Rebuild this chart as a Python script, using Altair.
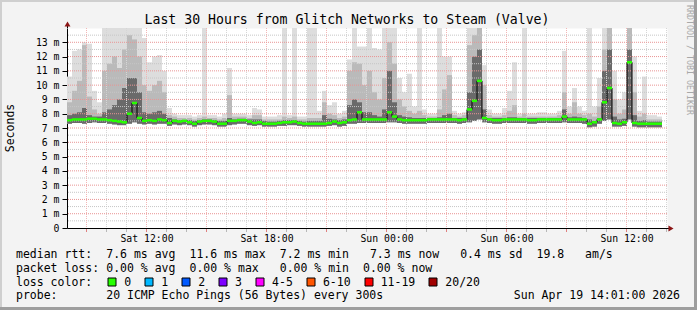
import altair as alt
import pandas as pd

# ---------------- data (one value per 15-minute bin) ----------------
START_HOUR = 8.025          # Sat 08:01 (hours since Sat 00:00)
BIN_HOURS = 0.25

smoke_max = [
    10.6, 12.4, 12.5, 13.0, 12.9, 9.6, 8.8, 14, 14, 14, 14, 14, 14, 14, 14, 13.3, 11.6, 12.0, 12.1, 11.0, 8.4, 8.0, 7.9, 7.9,
    7.9, 7.8, 7.9, 14, 7.9, 7.9, 7.8, 8.0, 11.2, 8.0, 8.0, 8.0, 7.9, 8.4, 8.3, 7.8, 7.8, 7.8, 7.9, 14, 7.9, 14, 7.8, 7.8,
    14, 14, 8.2, 9.6, 8.6, 8.8, 8.0, 8.2, 11.8, 14, 12.7, 12.7, 14, 12.6, 12.5, 14, 14, 14, 10.5, 9.5, 10.8, 8.5, 14, 8.3,
    8.0, 8.0, 14, 12.0, 12.0, 8.2, 8.0, 8.1, 14, 14, 14, 11.4, 8.3, 8.0, 8.0, 8.4, 9.6, 11.6, 8.0, 14, 8.0, 8.0, 8.1, 8.1,
    8.0, 8.0, 8.2, 12.4, 8.5, 9.8, 8.5, 8.2, 14, 8.5, 10.5, 14, 14, 11.0, 9.0, 9.5, 14, 12.0, 8.2, 10.6, 7.9, 7.9, 7.8,
]
smoke_mid = [
    8.8, 9.6, 10.3, 12.8, 9.2, 8.3, 8.0, 11.0, 11.5, 12.0, 11.2, 12.5, 13.5, 13.2, 12.0, 10.0, 9.6, 10.0, 10.3, 9.5, 7.9, 7.8, 7.7, 7.7,
    7.7, 7.6, 7.7, 7.8, 7.7, 7.7, 7.6, 7.7, 9.3, 7.8, 7.8, 7.8, 7.7, 7.9, 7.9, 7.6, 7.6, 7.6, 7.6, 7.8, 7.7, 7.8, 7.6, 7.6,
    7.7, 7.7, 7.7, 8.8, 8.0, 7.9, 7.7, 7.8, 11.0, 11.6, 11.5, 10.0, 11.0, 9.5, 9.0, 10.5, 13.0, 11.5, 9.0, 8.5, 8.2, 8.0, 8.2, 7.9,
    7.8, 7.8, 8.3, 9.7, 10.7, 7.9, 7.8, 7.9, 12.8, 13.5, 14, 10.0, 7.9, 7.8, 7.8, 7.9, 8.2, 8.6, 7.8, 8.0, 7.8, 7.8, 7.8, 7.8,
    7.8, 7.8, 7.9, 9.5, 8.0, 8.8, 8.0, 7.9, 8.0, 7.8, 8.5, 12.5, 14, 9.0, 8.0, 8.3, 14, 9.5, 7.8, 8.0, 7.6, 7.6, 7.6,
]
smoke_dark = [
    7.9, 8.0, 8.1, 8.4, 7.9, 7.8, 7.8, 8.1, 8.3, 8.6, 9.0, 9.8, 10.5, 10.5, 9.5, 8.1, 8.0, 8.1, 8.2, 8.0, 7.7, 7.6, 7.55, 7.55,
    7.55, 7.5, 7.55, 7.6, 7.6, 7.55, 7.5, 7.5, 7.7, 7.6, 7.65, 7.65, 7.6, 7.6, 7.6, 7.5, 7.45, 7.45, 7.5, 7.55, 7.55, 7.55, 7.5, 7.45,
    7.5, 7.5, 7.5, 7.9, 7.65, 7.6, 7.55, 7.6, 8.6, 9.0, 8.8, 8.1, 8.1, 7.9, 7.8, 8.3, 11.0, 8.8, 7.9, 7.8, 7.75, 7.7, 7.7, 7.7,
    7.7, 7.7, 7.75, 7.9, 8.0, 7.7, 7.7, 7.7, 9.5, 12.0, 12.5, 8.3, 7.7, 7.7, 7.7, 7.7, 7.75, 7.75, 7.7, 7.7, 7.7, 7.7, 7.7, 7.7,
    7.7, 7.7, 7.7, 8.3, 7.75, 7.8, 7.75, 7.7, 7.6, 7.5, 7.7, 11.0, 12.5, 7.8, 7.6, 7.65, 12.5, 7.9, 7.5, 7.55, 7.45, 7.45, 7.45,
]
smoke_min = [
    7.3, 7.35, 7.35, 7.3, 7.35, 7.4, 7.35, 7.35, 7.3, 7.25, 7.2, 7.2, 7.3, 7.4, 7.3, 7.25, 7.3, 7.25, 7.3, 7.3, 7.15, 7.25, 7.2, 7.25,
    7.2, 7.1, 7.2, 7.25, 7.25, 7.2, 7.1, 7.1, 7.2, 7.25, 7.3, 7.3, 7.2, 7.15, 7.2, 7.1, 7.1, 7.1, 7.15, 7.15, 7.2, 7.2, 7.15, 7.1,
    7.1, 7.1, 7.1, 7.1, 7.15, 7.2, 7.1, 7.15, 7.3, 7.3, 7.35, 7.35, 7.35, 7.35, 7.35, 7.35, 7.4, 7.4, 7.35, 7.3, 7.3, 7.3, 7.3, 7.3,
    7.35, 7.35, 7.35, 7.35, 7.35, 7.35, 7.3, 7.35, 7.4, 7.5, 7.6, 7.4, 7.35, 7.3, 7.3, 7.35, 7.35, 7.35, 7.35, 7.35, 7.3, 7.3, 7.35, 7.35,
    7.35, 7.35, 7.35, 7.4, 7.35, 7.35, 7.35, 7.3, 7.05, 7.1, 7.3, 7.5, 7.6, 7.1, 7.1, 7.15, 7.6, 7.1, 7.05, 7.05, 7.05, 7.05, 7.05,
]
median_rtt = [
    7.55, 7.6, 7.6, 7.6, 7.65, 7.65, 7.6, 7.6, 7.55, 7.5, 7.45, 7.4, 8.0, 8.75, 7.7, 7.5, 7.55, 7.5, 7.6, 7.55, 7.35, 7.5, 7.45, 7.5,
    7.4, 7.3, 7.45, 7.5, 7.5, 7.45, 7.3, 7.3, 7.5, 7.5, 7.55, 7.55, 7.45, 7.35, 7.4, 7.3, 7.3, 7.3, 7.35, 7.4, 7.4, 7.45, 7.35, 7.3,
    7.3, 7.3, 7.3, 7.3, 7.35, 7.45, 7.35, 7.4, 7.55, 7.6, 8.1, 7.6, 7.6, 7.6, 7.6, 7.6, 8.1, 7.8, 7.6, 7.55, 7.55, 7.55, 7.55, 7.55,
    7.6, 7.6, 7.6, 7.6, 7.6, 7.6, 7.55, 7.6, 8.3, 8.9, 10.3, 7.7, 7.6, 7.55, 7.55, 7.6, 7.6, 7.6, 7.6, 7.6, 7.55, 7.55, 7.6, 7.6,
    7.6, 7.6, 7.6, 7.8, 7.6, 7.6, 7.6, 7.6, 7.3, 7.4, 7.6, 8.8, 9.8, 7.35, 7.3, 7.4, 11.6, 7.35, 7.3, 7.3, 7.3, 7.3, 7.3,
]

y_tick_values = list(range(0, 14))
x_label_hours = [12, 18, 24, 30, 36]
grid_major_hours = [9, 12, 15, 18, 21, 24, 27, 30, 33, 36]
grid_minor_hours = [10, 11, 13, 14, 16, 17, 19, 20, 22, 23, 25, 26, 28, 29, 31, 32, 34, 35, 37, 38]
grid_major_ms = list(range(1, 14))
grid_minor_ms = [v + 0.5 for v in range(0, 14)]

title_text = "Last 30 Hours from Glitch Networks to Steam (Valve)"
rtt_tokens = ["median rtt:", "7.6 ms avg", "11.6 ms max", "7.2 ms min", "7.3 ms now", "0.4 ms sd", "19.8", "am/s"]
loss_tokens = ["packet loss:", "0.00 % avg", "0.00 % max", "0.00 % min", "0.00 % now"]
loss_color_title = "loss color:"
probe_tokens = ["probe:", "20 ICMP Echo Pings (56 Bytes) every 300s"]
date_text = "Sun Apr 19 14:01:00 2026"
loss_labels = ["0", "1", "2", "3", "4-5", "6-10", "11-19", "20/20"]
loss_colors = ["#26ff00", "#00b8ff", "#0059ff", "#7e00ff", "#ff00ff", "#ff5500", "#ff0000", "#a10000"]

# ---------------- layout (character columns of the legend pieces) ----------------
LEFT, TOP = 67, 28
W, H = 600, 200
MONO = "DejaVu Sans Mono"
CH = 6.94            # advance of one legend character in px
LEG_X0 = 16
rtt_col = [0, 13, 25, 38, 51, 64, 75, 82]
loss_col = [0, 13, 25, 38, 50]
probe_col = [0, 13]

n = len(median_rtt)
t0 = [START_HOUR + BIN_HOURS * i for i in range(n)]
df = pd.DataFrame({
    "t0": t0,
    "t1": [t + BIN_HOURS for t in t0],
    "lo": smoke_min, "mx": smoke_max, "mid": smoke_mid, "dk": smoke_dark, "med": median_rtt,
})

xs = alt.Scale(domain=[START_HOUR, START_HOUR + 30], nice=False, zero=False)
ys = alt.Scale(domain=[0, 14], nice=False, zero=False)

x_label_expr = ("(datum.value < 24 ? 'Sat ' : 'Sun ') + (datum.value % 24 < 10 ? '0' : '') "
                "+ (datum.value % 24) + ':00'")
xaxis = alt.Axis(values=x_label_hours, labelExpr=x_label_expr, title=None, grid=False,
                 ticks=False, labelPadding=5, labelFont=MONO, labelFontSize=9.8,
                 labelColor="#000000", domainColor="#000000", labelFlush=False)
yaxis = alt.Axis(values=y_tick_values, labelExpr="datum.value == 0 ? '0' : datum.value + ' m'",
                 title=None, grid=False, tickSize=5, tickColor="#000000", labelPadding=3,
                 labelFont=MONO, labelFontSize=9.8, labelColor="#000000", domainColor="#000000")

base = alt.Chart(df)


def band(col, color):
    return base.mark_rect(color=color, clip=True).encode(
        x=alt.X("t0:Q", scale=xs, axis=xaxis), x2="t1",
        y=alt.Y("lo:Q", scale=ys, axis=yaxis), y2=col)


layers = [band("mx", "#dddddd"), band("mid", "#bababa"), band("dk", "#6a6a6a")]


def vgrid(values, color):
    return alt.Chart(pd.DataFrame({"h": values})).mark_rule(
        color=color, strokeDash=[1, 1], strokeWidth=1).encode(x=alt.X("h:Q", scale=xs, axis=xaxis))


def hgrid(values, color):
    return alt.Chart(pd.DataFrame({"v": values})).mark_rule(
        color=color, strokeDash=[1, 1], strokeWidth=1).encode(y=alt.Y("v:Q", scale=ys, axis=yaxis))


def xticks(values, color):
    return alt.Chart(pd.DataFrame({"h": values})).mark_rule(color=color, strokeWidth=1).encode(
        x=alt.X("h:Q", scale=xs, axis=xaxis), y=alt.value(H + 1), y2=alt.value(H + 4))


# grid (drawn over the smoke, as RRDtool does)
layers += [vgrid(grid_minor_hours, "#d6d6d6"), hgrid(grid_minor_ms, "#c6c6c6"),
           vgrid(grid_major_hours, "#f2b6b6"), hgrid(grid_major_ms, "#e99494"),
           xticks(grid_minor_hours, "#b8b8b8"), xticks(grid_major_hours, "#e08080")]

# median: black step connections + green level segments
layers.append(base.mark_line(interpolate="step-after", color="#000000", strokeWidth=1).encode(
    x=alt.X("t0:Q", scale=xs, axis=xaxis), y=alt.Y("med:Q", scale=ys, axis=yaxis)))
layers.append(base.mark_rule(color="#26ff00", strokeWidth=2.5).encode(
    x=alt.X("t0:Q", scale=xs, axis=xaxis), x2="t1", y=alt.Y("med:Q", scale=ys, axis=yaxis)))

one = pd.DataFrame({"a": [0]})


def text(s, x, y, size=11.5, align="left", baseline="alphabetic", angle=0, color="#000000"):
    s = s.replace(" ", "\u00a0")
    return alt.Chart(one).mark_text(text=s, font=MONO, fontSize=size, align=align,
                                    baseline=baseline, angle=angle, color=color).encode(
        x=alt.value(x - LEFT), y=alt.value(y - TOP))


def box(x0, y0, x1, y1, fill, stroke=None, sw=1):
    kw = dict(color=fill)
    if stroke:
        kw = dict(fill=fill, stroke=stroke, strokeWidth=sw)
    return alt.Chart(one).mark_rect(**kw).encode(
        x=alt.value(x0 - LEFT), x2=alt.value(x1 - LEFT), y=alt.value(y0 - TOP), y2=alt.value(y1 - TOP))


# axis extensions and arrows
layers.append(alt.Chart(one).mark_rule(color="#000000").encode(
    x=alt.value(0.5), y=alt.value(24 - TOP), y2=alt.value(0)))
layers.append(alt.Chart(one).mark_rule(color="#000000").encode(
    x=alt.value(W), x2=alt.value(669 - LEFT), y=alt.value(H + 0.5)))
layers.append(alt.Chart(one).mark_point(shape="triangle-up", filled=True, size=35, color="#8b1515", opacity=1).encode(
    x=alt.value(0.5), y=alt.value(24 - TOP)))
layers.append(alt.Chart(one).mark_point(shape="triangle-right", filled=True, size=35, color="#8b1515", opacity=1).encode(
    x=alt.value(671 - LEFT), y=alt.value(228.5 - TOP)))

# texts
layers.append(text(title_text, 347, 23.5, size=13.2, align="center"))
layers.append(text("Seconds", 11, 128, size=11.5, align="center", baseline="middle", angle=270))
layers.append(text("RRDTOOL / TOBI OETIKER", 688.5, 60, size=8.3, align="center", baseline="middle",
                   angle=90, color="#a8a8a8"))
for s, c in zip(rtt_tokens, rtt_col):
    layers.append(text(s, LEG_X0 + c * CH, 258.3))
for s, c in zip(loss_tokens, loss_col):
    layers.append(text(s, LEG_X0 + c * CH, 272))
layers.append(text(loss_color_title, LEG_X0, 285.7))
for s, c in zip(probe_tokens, probe_col):
    layers.append(text(s, LEG_X0 + c * CH, 299.4))
layers.append(text(date_text, 680, 299.4, align="right"))

# loss colour legend
bx = 108.3
for lab, col in zip(loss_labels, loss_colors):
    layers.append(box(round(bx), 278, round(bx) + 8, 286, col, stroke="#000000", sw=1))
    lx = bx + 16
    layers.append(text(lab, lx, 285.7))
    bx = lx + len(lab) * CH + 14

# 3-D frame of the whole image
layers.append(box(0, 0, 697, 2, "#cfcfcf"))
layers.append(box(0, 0, 2, 310, "#cfcfcf"))
layers.append(box(0, 307, 697, 310, "#9e9e9e"))
layers.append(box(694, 0, 697, 310, "#9e9e9e"))

chart = alt.layer(*layers).properties(
    width=W, height=H,
    padding={"left": LEFT, "top": TOP, "right": 697 - LEFT - W, "bottom": 310 - TOP - H},
    autosize=alt.AutoSizeParams(type="none"),
).configure(background="#f3f3f3").configure_view(fill="#ffffff", strokeOpacity=0)

chart.save("out.html", embed_options={"renderer": "svg", "actions": False})
